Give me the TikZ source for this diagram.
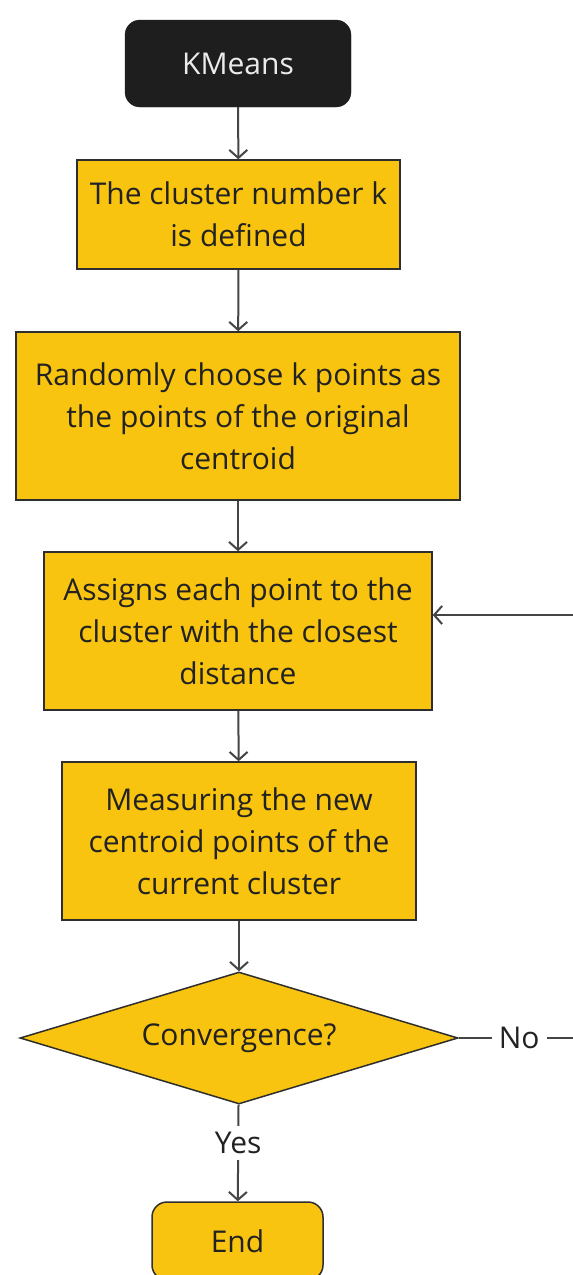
\documentclass[tikz,border=0pt]{standalone}
\usepackage{fontspec}
\setmainfont{Open Sans}
\usetikzlibrary{shapes.geometric,arrows.meta}
\definecolor{boxfill}{HTML}{F8C40F}
\definecolor{boxline}{HTML}{2E2E2E}
\definecolor{conn}{HTML}{454545}
\definecolor{txt}{HTML}{222222}
\definecolor{startfill}{HTML}{1E1E1E}
\tikzset{
  stepbox/.style={draw=boxline, line width=1.5pt, fill=boxfill, text=txt, align=center, inner sep=0pt,
    font=\fontsize{30}{42}\selectfont},
  startbox/.style={draw=startfill, fill=startfill, rounded corners=15pt, text=white!92!black, inner sep=0pt,
    font=\fontsize{30}{42}\selectfont},
  endbox/.style={stepbox, rounded corners=15pt},
  decision/.style={stepbox, diamond, aspect=3.32},
  conn/.style={draw=conn, line width=2pt, -{Straight Barb[length=8pt,width=18pt,line width=2pt]}},
  plain/.style={draw=conn, line width=2pt},
  lbl/.style={fill=white, text=txt, inner xsep=7pt, inner ysep=6pt, font=\fontsize{30}{34}\selectfont}
}
\begin{document}
\begin{tikzpicture}[x=1pt,y=-1pt]
\useasboundingbox (0,0) rectangle (573,1275);
\fill[white] (0,0) rectangle (573,1275);
\clip (0,0) rectangle (573,1275);
\node[startbox, minimum width=226pt, minimum height=87pt] (start) at (238,63.5) {KMeans};
\node[stepbox, minimum width=323pt, minimum height=109pt] (b1) at (238.5,214.5) {The cluster number k\\is defined};
\node[stepbox, minimum width=444pt, minimum height=168pt] (b2) at (238,416) {Randomly choose k points as\\the points of the original\\centroid};
\node[stepbox, minimum width=388pt, minimum height=158pt] (b3) at (238,631) {Assigns each point to the\\cluster with the closest\\distance};
\node[stepbox, minimum width=354pt, minimum height=158pt] (b4) at (239,841) {Measuring the new\\centroid points of the\\current cluster};
\node[decision, minimum width=438pt, minimum height=132pt] (dec) at (239,1038) {Convergence?};
\node[endbox, minimum width=171pt, minimum height=78pt] (end) at (237.5,1241) {End};
\coordinate (noend) at (575,1038);
\coordinate (loopin) at (575,615);

\draw[conn] (start) -- (b1);
\draw[conn] (b1) -- (b2);
\draw[conn] (b2) -- (b3);
\draw[conn] (b3) -- (b4);
\draw[conn] (b4) -- (dec);
\draw[conn] (dec) -- node[lbl, pos=0.4] {Yes} (end);
\draw[plain] (dec.east) -- node[lbl, pos=0.52] {No} (noend);
\draw[conn] (loopin) -- (b3.east |- loopin);
\end{tikzpicture}
\end{document}
